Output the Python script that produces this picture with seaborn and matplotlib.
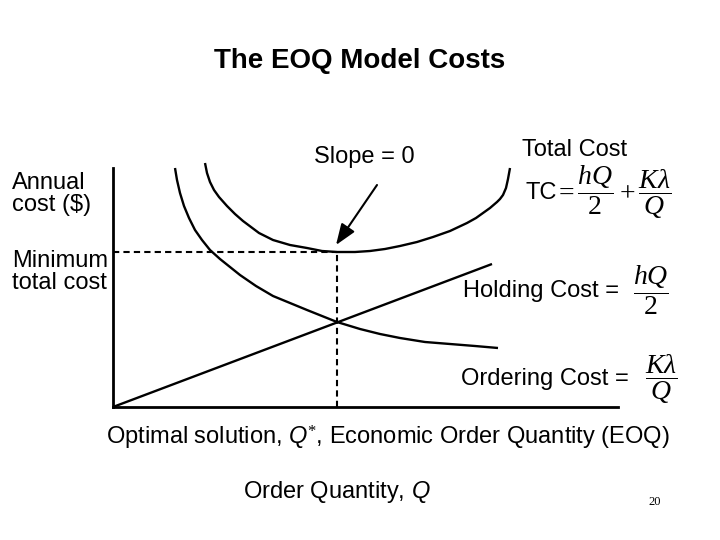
import matplotlib
matplotlib.use("Agg")
import matplotlib.pyplot as plt
import seaborn as sns
import pandas as pd

# ---- data (arbitrary cost / quantity units) ----
q_order = [62, 64, 67, 71, 76, 82, 89, 97, 107, 117, 127, 143, 160, 177, 194,
           209, 224, 247, 267, 287, 312, 337, 362, 385]
cost_order = [239, 227, 214, 201, 189, 177, 167, 157, 148, 140, 132, 121, 111,
              104, 97, 91, 85, 78, 73, 69, 65, 63, 61, 59]

q_total = [92, 94, 97, 101, 106, 114, 122, 130, 138, 146, 160, 177, 194, 209,
           224, 242, 257, 272, 287, 304, 320, 337, 354, 363, 370, 377, 384,
           387, 390, 393, 395, 397]
cost_total = [244, 234, 225, 217, 210, 201, 193, 186, 180, 174, 167, 162, 159,
              156, 155, 155, 156, 158, 161, 165, 170, 176, 184, 189, 194, 199,
              205, 208, 212, 219, 228, 239]

q_hold = [0, 379]
cost_hold = [0, 143]

q_star = 224
min_total = 155
arrow_start = [264, 222]

sns.set_style("white")
plt.rcParams["font.family"] = ["Liberation Sans", "DejaVu Sans"]
plt.rcParams["text.color"] = "black"
plt.rcParams["mathtext.fontset"] = "custom"
plt.rcParams["mathtext.rm"] = "Liberation Serif"
plt.rcParams["mathtext.it"] = "Liberation Serif:italic"
plt.rcParams["mathtext.sf"] = "Liberation Sans"
plt.rcParams["mathtext.bf"] = "Liberation Sans:italic"

fig = plt.figure(figsize=(7.2, 5.4), dpi=100)
ax = fig.add_axes([113 / 720, 133 / 540, 505 / 720, 239 / 540])

df_o = pd.DataFrame({"Q": q_order, "cost": cost_order})
df_t = pd.DataFrame({"Q": q_total, "cost": cost_total})
df_h = pd.DataFrame({"Q": q_hold, "cost": cost_hold})
for d in (df_o, df_t, df_h):
    sns.lineplot(data=d, x="Q", y="cost", ax=ax, color="black", lw=1.7,
                 sort=False, estimator=None)
for line in ax.get_lines():
    line.set_clip_on(False)
    line.set_solid_joinstyle("round")
    line.set_solid_capstyle("butt")

ax.plot([0, q_star], [min_total, min_total], color="black", lw=1.5,
        linestyle=(0, (3, 2)), clip_on=False)
ax.plot([q_star, q_star], [0, min_total], color="black", lw=1.5,
        linestyle=(0, (3, 2)), clip_on=False)

ax.annotate("", xy=(q_star - 1, min_total + 7), xytext=tuple(arrow_start),
            arrowprops=dict(arrowstyle="-|>,head_width=0.3,head_length=0.8",
                            color="black", lw=1.5,
                            mutation_scale=16, shrinkA=0, shrinkB=0),
            annotation_clip=False)

ax.set_xlim(0, 505)
ax.set_ylim(0, 239)
ax.set_xticks([])
ax.set_yticks([])
ax.set_xlabel("")
ax.set_ylabel("")
for s in ("top", "right"):
    ax.spines[s].set_visible(False)
for s in ("left", "bottom"):
    ax.spines[s].set_color("black")
    ax.spines[s].set_linewidth(2.0)

def ft(x, y, s, **kw):
    fig.text(x / 720, 1 - y / 540, s, **kw)

FS = 17
MS = 20
ft(360, 61, "The EOQ Model Costs", fontsize=20, fontweight="bold", ha="center", va="center")
ft(364, 157, "Slope = 0", fontsize=FS, ha="center", va="center")
ft(575, 150, "Total Cost", fontsize=FS, ha="center", va="center")
ft(525, 193, r"TC", fontsize=FS, ha="left", va="center")
ft(554, 192, r"$=\dfrac{hQ}{2}+\dfrac{K\lambda}{Q}$", fontsize=MS, ha="left", va="center")
ft(12, 194, "Annual\ncost ($)", fontsize=FS, ha="left", va="center", linespacing=1.0)
ft(12, 272, "Minimum\ntotal cost", fontsize=FS, ha="left", va="center", linespacing=1.0)
ft(463, 291, "Holding Cost =", fontsize=FS, ha="left", va="center")
ft(651, 290, r"$\dfrac{hQ}{2}$", fontsize=MS, ha="center", va="center")
ft(461, 379, "Ordering Cost =", fontsize=FS, ha="left", va="center")
ft(661, 379, r"$\dfrac{K\lambda}{Q}$", fontsize=MS, ha="center", va="center")
ft(388, 438, r"Optimal solution, $\mathbf{Q}^{*}$, Economic Order Quantity (EOQ)",
   fontsize=FS, ha="center", va="center")
ft(337, 492, r"Order Quantity, $\mathbf{Q}$", fontsize=FS, ha="center", va="center")
ft(655, 502, "20", fontsize=9, ha="center", va="center", family="Liberation Serif")

fig.savefig("out.png", dpi=100)
